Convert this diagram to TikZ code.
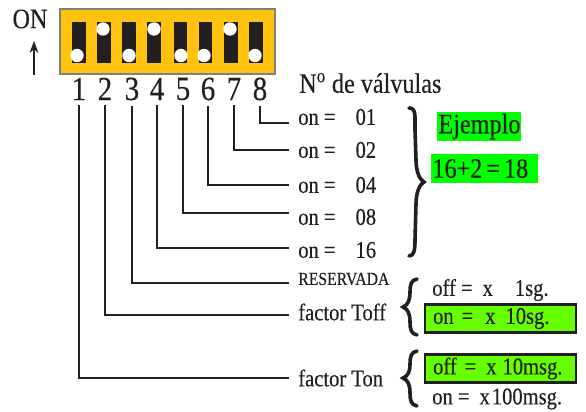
\documentclass[tikz,border=0pt]{standalone}
\usepackage{fontspec}
\usepackage{xcolor}
\usepackage{tikz}
\usetikzlibrary{arrows}
\usetikzlibrary{arrows.meta}
\setmainfont[FakeStretch=0.86,FakeBold=0.25]{Liberation Serif}
\definecolor{dipamber}{HTML}{FFC20E}
\definecolor{dipslot}{HTML}{231F20}
\definecolor{limegreen}{HTML}{00FF00}
\definecolor{boxgreen}{HTML}{66FF00}
\tikzset{
  digit/.style = {inner ysep = 0.125cm, inner xsep = 0pt, text = dipslot, font = \fontsize{24}{24}\selectfont},
  rowlabel/.style = {anchor = west, inner xsep = 0.225cm, inner ysep = 0pt, text = dipslot, font = \fontsize{17}{17}\selectfont},
  wire/.style = {draw = dipslot, line width = 0.055cm},
  curl/.style = {draw = dipslot, line width = 0.09cm, line cap = round},
  greenlabel/.style = {fill = limegreen, anchor = west, inner sep = 0pt, text = dipslot, font = \fontsize{20}{20}\selectfont},
  framedlabel/.style = {draw = dipslot, line width = 0.055cm, fill = boxgreen, anchor = west, inner sep = 0pt, text = dipslot, text width = 3.78cm, minimum height = 0.7cm, font = \fontsize{17}{17}\selectfont}
}
\begin{document}
\begin{tikzpicture}[x = 0.025cm, y = -0.025cm]
\useasboundingbox (0, 0) rectangle (586, 412);

\filldraw [draw = gray, line width = 0.03cm, fill = dipamber] (60, 9) rectangle (275, 74);
\fill [dipslot] (72, 22) rectangle (86, 63);
\fill [dipslot] (97, 22) rectangle (111, 63);
\fill [dipslot] (122, 22) rectangle (136, 63);
\fill [dipslot] (147, 22) rectangle (161, 63);
\fill [dipslot] (174, 22) rectangle (187, 63);
\fill [dipslot] (199, 22) rectangle (212, 63);
\fill [dipslot] (224, 22) rectangle (238, 63);
\fill [dipslot] (249, 22) rectangle (263, 63);
\fill [white] (77, 55.5) circle (6.7);
\fill [white] (103, 29) circle (6.7);
\fill [white] (129, 55.5) circle (6.7);
\fill [white] (154, 29) circle (6.7);
\fill [white] (181, 55.5) circle (6.7);
\fill [white] (204, 55.5) circle (6.7);
\fill [white] (230, 29) circle (6.7);
\fill [white] (255, 55.5) circle (6.7);

\node [text = dipslot, font = \fontsize{20}{20}\selectfont, inner sep = 0pt] (on) at (30, 19) {ON};
\coordinate (ontail) at (34, 75);
\coordinate (onhead) at (34, 41);
\draw [-{Stealth[length = 0.3cm, width = 0.22cm]}, draw = dipslot, line width = 0.035cm] (ontail) -- (onhead);

\node [digit] (d1) at (79, 89) {1};
\node [digit] (d2) at (105, 89) {2};
\node [digit] (d3) at (132, 89) {3};
\node [digit] (d4) at (157, 89) {4};
\node [digit] (d5) at (183, 89) {5};
\node [digit] (d6) at (208, 89) {6};
\node [digit] (d7) at (234, 89) {7};
\node [digit] (d8) at (260, 89) {8};

\node [rowlabel, font = \fontsize{20}{20}\selectfont] (title) at (290, 83) {N\textsuperscript{o} de válvulas};
\node [rowlabel] (on8) at (289, 117) {on =\hspace{0.5cm}01};
\node [rowlabel] (on7) at (289, 150) {on =\hspace{0.5cm}02};
\node [rowlabel] (on6) at (289, 185) {on =\hspace{0.5cm}04};
\node [rowlabel] (on5) at (289, 217) {on =\hspace{0.5cm}08};
\node [rowlabel] (on4) at (289, 250) {on =\hspace{0.5cm}16};
\node [rowlabel, font = \fontsize{13}{13}\selectfont] (res) at (289, 279) {RESERVADA};
\node [rowlabel] (toff) at (289, 312) {factor Toff};
\node [rowlabel] (ton) at (289, 378) {factor Ton};

\draw [wire] (d8.south) |- ([yshift = -0.15cm]on8.west);
\draw [wire] (d7.south) |- (on7.west);
\draw [wire] (d6.south) |- (on6.west);
\draw [wire] (d5.south) |- ([yshift = 0.1cm]on5.west);
\draw [wire] (d4.south) |- ([yshift = 0.05cm]on4.west);
\draw [wire] (d3.south) |- ([yshift = -0.1cm]res.west);
\draw [wire] (d2.south) |- ([yshift = -0.075cm]toff.west);
\draw [wire] (d1.south) |- (ton.west);

\draw [curl] (409, 108) .. controls (416, 108) and (415, 115) .. (415, 130) -- (416, 160) .. controls (416, 172) and (420, 180) .. (424, 182) .. controls (420, 184) and (416, 192) .. (416, 204) -- (415, 240) .. controls (415, 250) and (414, 256) .. (409, 256);
\draw [curl] (417, 279) .. controls (411, 280) and (410, 285) .. (410, 292) .. controls (410, 300) and (408, 305) .. (403, 307) .. controls (408, 309) and (410, 314) .. (410, 322) .. controls (410, 329) and (411, 334) .. (417, 335);
\draw [curl] (417, 351) .. controls (411, 352) and (410, 357) .. (410, 364) .. controls (410, 372) and (408, 376) .. (403, 378) .. controls (408, 380) and (410, 385) .. (410, 393) .. controls (410, 400) and (411, 405) .. (417, 406);

\node [greenlabel, text width = 2.1cm, minimum height = 0.725cm] (ejemplo) at (437, 126.5) {\mbox{\hspace{0.03cm}Ejemplo}\hfill};
\node [greenlabel, text width = 2.675cm, minimum height = 0.725cm] (suma) at (431, 168.5) {\mbox{\hspace{0.03cm}16+2\hspace{0.1cm}=\hspace{0.1cm}18}\hfill};

\node [rowlabel, inner xsep = 0pt] (off1) at (432, 290) {off =\hspace{0.25cm}x\hspace{0.55cm}1sg.};
\node [framedlabel] (on10) at (424, 318.5) {\hspace{0.2cm}on =\hspace{0.3cm}x\hspace{0.25cm}10sg.};
\node [framedlabel] (off10) at (424, 368.5) {\hspace{0.2cm}off =\hspace{0.25cm}x\hspace{0.15cm}10msg.};
\node [rowlabel, inner xsep = 0pt] (on100) at (432, 399) {on =\hspace{0.25cm}x\hspace{0.05cm}100msg.};
\end{tikzpicture}
\end{document}
